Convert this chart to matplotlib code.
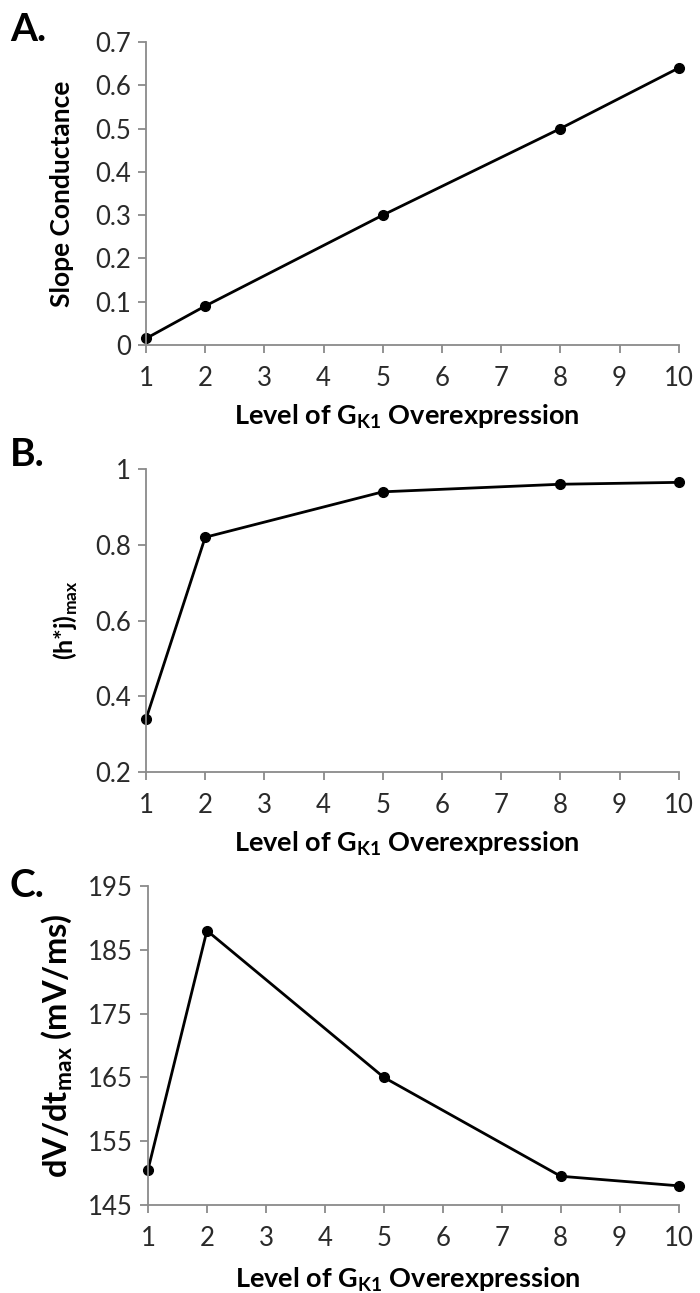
import numpy as np
from matplotlib import pyplot as plt

plt.rcParams['font.family'] = ['Lato', 'DejaVu Sans']
plt.rcParams['mathtext.fontset'] = 'custom'
plt.rcParams['mathtext.rm'] = 'Lato'
plt.rcParams['mathtext.bf'] = 'Lato:bold'

# Data
level = [1, 2, 5, 8, 10]
slope_cond = [0.015, 0.09, 0.30, 0.50, 0.64]
hj_max = [0.34, 0.82, 0.94, 0.96, 0.965]
dvdt_max = [150.5, 188.0, 165.0, 149.5, 148.0]

xticks = list(range(1, 11))
xlabel = r'Level of G$_{\mathbf{K1}}$ Overexpression'

fig = plt.figure(figsize=[7, 12.93], dpi=100)
gray = '#8a8a8a'

# letter, values, axes rect, ylim, yticks, yticklabels, ylabel, ylabel size, ylabel x, letter y
panels = [
    ('A.', slope_cond, [0.2086, 0.7332, 0.761, 0.2343], (0, 0.7), np.arange(0, 0.71, 0.1),
     ['0', '0.1', '0.2', '0.3', '0.4', '0.5', '0.6', '0.7'], 'Slope Conductance', 19, -0.158, 0.991),
    ('B.', hj_max, [0.2086, 0.4029, 0.761, 0.2343], (0.2, 1.0), np.arange(0.2, 1.01, 0.2),
     ['0.2', '0.4', '0.6', '0.8', '1'], r'(h*j)$_{\mathregular{max}}$', 18, -0.15, 0.662),
    ('C.', dvdt_max, [0.2114, 0.0681, 0.758, 0.2467], (145, 195), np.arange(145, 196, 10),
     ['145', '155', '165', '175', '185', '195'], r'dV/dt$_{\mathregular{max}}$ (mV/ms)', 23.5, -0.17, 0.329),
]

for letter, vals, pos, ylim, yt, ytl, ylab, ysz, yx, ly in panels:
    ax = fig.add_axes(pos)
    ln, = ax.plot(level, vals, color='black', lw=2, marker='o', ms=7)
    ln.set_clip_on(False)
    ax.set_xlim(1, 10)
    ax.set_ylim(*ylim)
    ax.set_xticks(xticks)
    ax.set_yticks(yt)
    ax.set_yticklabels(ytl)
    for s in ['top', 'right']:
        ax.spines[s].set_visible(False)
    for s in ['left', 'bottom']:
        ax.spines[s].set_color(gray)
        ax.spines[s].set_linewidth(1.3)
    ax.tick_params(direction='out', color=gray, width=1.3, length=6, labelsize=18.5,
                   labelcolor='#2a2a2a')
    ax.tick_params(axis='x', pad=9)
    ax.tick_params(axis='y', pad=5)
    ax.set_xlabel(xlabel, fontsize=19.5, fontweight='bold', va='top')
    ax.xaxis.set_label_coords(0.49, -0.19)
    ax.set_ylabel(ylab, fontsize=ysz, fontweight='bold', va='center')
    ax.yaxis.set_label_coords(yx, 0.5)
    fig.text(0.014, ly, letter, fontsize=28, fontweight='bold', va='top')

plt.savefig('out.png', dpi=100)
